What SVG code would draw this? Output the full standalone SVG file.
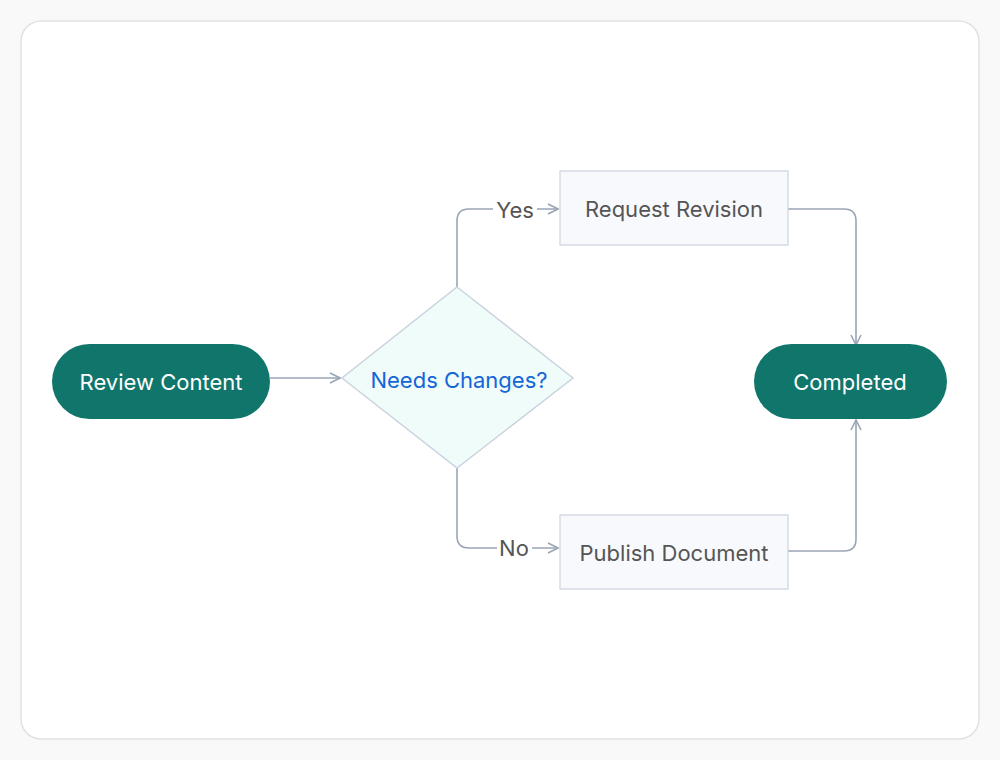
<svg xmlns="http://www.w3.org/2000/svg" width="1000" height="760" viewBox="0 0 1000 760">
<style>
text{font-family:Inter,"Liberation Sans",sans-serif;font-size:22px;text-anchor:middle;dominant-baseline:central}
.pill{fill:#10766b}
.pt{fill:#fff}
.box{fill:#f8f9fc;stroke:#ccd3e0;stroke-width:1.2}
.bt{fill:#555}
.c{fill:none;stroke:#9aa5b6;stroke-width:1.6}
.lb{fill:#555}
</style>
<defs><marker id="a" viewBox="0 0 12 12" refX="11" refY="6" markerWidth="12" markerHeight="12" markerUnits="userSpaceOnUse" orient="auto"><path d="M1,1 L11,6 L1,11" fill="none" stroke="#9aa5b6" stroke-width="1.6"/></marker></defs>
<rect width="1000" height="760" fill="#f9f9f9"/>
<rect x="21" y="21" width="958" height="718" rx="20" fill="#fff" stroke="#e2e2e2" stroke-width="1.5"/>
<g id="connectors">
<path class="c" d="M270,378 H340" marker-end="url(#a)"/>
<path class="c" d="M457,287 V221 Q457,209 469,209 H558" marker-end="url(#a)"/>
<path class="c" d="M457,468 V536 Q457,548 469,548 H558" marker-end="url(#a)"/>
<path class="c" d="M788,209 H844 Q856,209 856,221 V345" marker-end="url(#a)"/>
<path class="c" d="M788,551 H844 Q856,551 856,539 V420" marker-end="url(#a)"/>
<rect x="493" y="196" width="44" height="28" fill="#fff"/>
<text class="lb" x="515" y="210">Yes</text>
<rect x="497" y="534" width="35" height="28" fill="#fff"/>
<text class="lb" x="514" y="548">No</text>
</g>
<g id="review"><rect class="pill" x="52" y="344" width="218" height="75" rx="37.5"/><text class="pt" x="161" y="382">Review Content</text></g>
<g id="decision"><polygon points="457,287 573,378 457,468 342,378" fill="#effcf9" stroke="#ccd3e0" stroke-width="1.5"/><text x="459" y="380" fill="#1565d8">Needs Changes?</text></g>
<g id="revision"><rect class="box" x="560" y="171" width="228" height="74"/><text class="bt" x="674" y="209">Request Revision</text></g>
<g id="publish"><rect class="box" x="560" y="515" width="228" height="74"/><text class="bt" x="674" y="553">Publish Document</text></g>
<g id="completed"><rect class="pill" x="754" y="344" width="193" height="75" rx="37.5"/><text class="pt" x="850" y="382">Completed</text></g>
</svg>
